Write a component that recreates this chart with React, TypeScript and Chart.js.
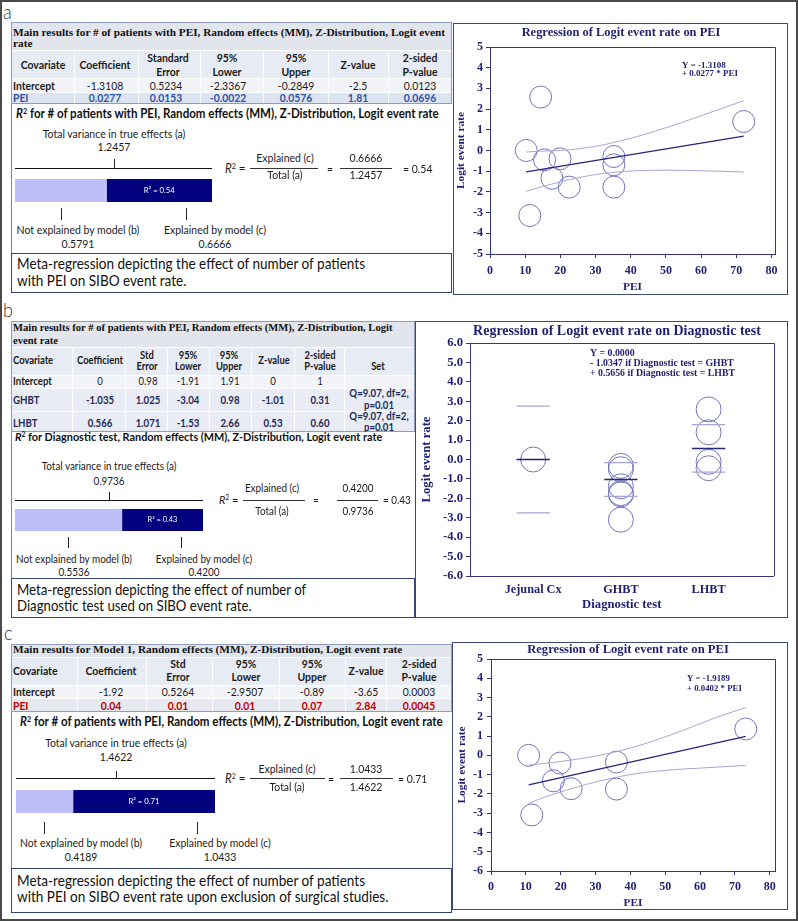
import React, { useEffect, useRef } from "react";
import { Chart, registerables } from "chart.js";
Chart.register(...registerables);

/* ================= DATA ================= */
// ---- panel a ----
const aPEI = [10.3, 14.4, 15.5, 19.9, 17.6, 22.5, 11.3, 35.2, 35.2, 35.2, 72.1];
const aLogit = [0.0, 2.58, -0.45, -0.4, -1.34, -1.77, -3.14, -0.29, -0.69, -1.77, 1.4];
const aFitX = [10.3, 72.1];
const aFitY = [-1.03, 0.69];
const aBandX = [10.3, 15, 20, 25, 30, 35, 40, 45, 50, 55, 60, 65, 72.1];
const aUpper = [-0.07, -0.03, 0.0, 0.08, 0.2, 0.38, 0.59, 0.83, 1.1, 1.38, 1.68, 1.98, 2.4];
const aLower = [-1.97, -1.74, -1.51, -1.32, -1.16, -1.06, -0.99, -0.96, -0.95, -0.96, -0.98, -1.0, -1.04];
const aChartTitle = "Regression of Logit event rate on PEI";
const aEquation = ["Y = -1.3108", "+ 0.0277 * PEI"];
const aTableTitle = ["Main results for # of patients with PEI, Random effects (MM), Z-Distribution, Logit event", "rate"];
const aHeads = [["Covariate"], ["Coefficient"], ["Standard", "Error"], ["95%", "Lower"], ["95%", "Upper"], ["Z-value"], ["2-sided", "P-value"]];
const aIntercept = ["-1.3108", "0.5234", "-2.3367", "-0.2849", "-2.5", "0.0123"];
const aPEIRow = ["0.0277", "0.0153", "-0.0022", "0.0576", "1.81", "0.0696"];
const aR2Title = "for # of patients with PEI, Random effects (MM), Z-Distribution, Logit event rate";
const aTotal = 1.2457;
const aNotExpl = 0.5791;
const aExpl = 0.6666;
const aR2 = 0.54;
const aCaption = ["Meta-regression depicting the effect of number of patients", "with PEI on SIBO event rate."];

// ---- panel b ----
const bCats = ["Jejunal Cx", "GHBT", "LHBT"];
const bJejunal = [0.0];
const bGHBT = [-0.33, -0.5, -1.38, -1.73, -1.8, -3.1];
const bLHBT = [2.58, 1.4, -0.12, -0.45];
const bMean = [0.0, -1.03, 0.57];
const bUpper = [2.75, -0.16, 1.8];
const bLower = [-2.75, -1.9, -0.65];
const bChartTitle = "Regression of Logit event rate on Diagnostic test";
const bEquation = ["Y = 0.0000", "- 1.0347 if Diagnostic test = GHBT", "+ 0.5656 if Diagnostic test = LHBT"];
const bTableTitle = ["Main results for # of patients with PEI, Random effects (MM), Z-Distribution, Logit", "event rate"];
const bHeads = [["Covariate"], ["Coefficient"], ["Std", "Error"], ["95%", "Lower"], ["95%", "Upper"], ["Z-value"], ["2-sided", "P-value"], ["Set"]];
const bIntercept = ["0", "0.98", "-1.91", "1.91", "0", "1"];
const bGHBTRow = ["-1.035", "1.025", "-3.04", "0.98", "-1.01", "0.31"];
const bLHBTRow = ["0.566", "1.071", "-1.53", "2.66", "0.53", "0.60"];
const bSet = ["Q=9.07, df=2,", "p=0.01"];
const bR2Title = "for Diagnostic test, Random effects (MM), Z-Distribution, Logit event rate";
const bTotal = 0.9736;
const bNotExpl = 0.5536;
const bExpl = 0.42;
const bR2 = 0.43;
const bCaption = ["Meta-regression depicting the effect of number of", "Diagnostic test used on SIBO event rate."];

// ---- panel c ----
const cPEI = [10.8, 19.8, 17.9, 23.0, 11.7, 36.0, 36.0, 73.1];
const cLogit = [0.0, -0.4, -1.32, -1.73, -3.09, -0.35, -1.75, 1.37];
const cFitX = [10.8, 73.1];
const cFitY = [-1.53, 0.98];
const cBandX = [10.8, 15, 20, 25, 30, 35, 40, 45, 50, 55, 60, 65, 73.1];
const cUpper = [-0.5, -0.42, -0.32, -0.19, -0.04, 0.15, 0.38, 0.65, 0.96, 1.29, 1.64, 1.99, 2.48];
const cLower = [-2.5, -2.19, -1.9, -1.63, -1.38, -1.17, -1.0, -0.87, -0.78, -0.71, -0.66, -0.61, -0.52];
const cChartTitle = "Regression of Logit event rate on PEI";
const cEquation = ["Y = -1.9189", "+ 0.0402 * PEI"];
const cTableTitle = ["Main results for Model 1, Random effects (MM), Z-Distribution, Logit event rate"];
const cHeads = [["Covariate"], ["Coefficient"], ["Std", "Error"], ["95%", "Lower"], ["95%", "Upper"], ["Z-value"], ["2-sided", "P-value"]];
const cIntercept = ["-1.92", "0.5264", "-2.9507", "-0.89", "-3.65", "0.0003"];
const cPEIRow = ["0.04", "0.01", "0.01", "0.07", "2.84", "0.0045"];
const cR2Title = "for # of patients with PEI, Random effects (MM), Z-Distribution, Logit event rate";
const cTotal = 1.4622;
const cNotExpl = 0.4189;
const cExpl = 1.0433;
const cR2 = 0.71;
const cCaption = ["Meta-regression depicting the effect of number of patients", "with PEI on SIBO event rate upon exclusion of surgical studies."];

/* ================= STYLE ================= */
const SANS = "Lato, 'Open Sans', 'Liberation Sans', sans-serif";
const SERIF = "'Liberation Serif', 'DejaVu Serif', 'Times New Roman', serif";
const SX = 0.9; // horizontal squeeze for the sans text (Calibri-like proportions)
const NAVY = "#1f1f72";
const AXIS = "#34347f";
const CIRC = "#7474bc";
const CI = "#a6a6d6";
const REG = "#25257c";
const TXT = "#1b1b1b";

const mctx: CanvasRenderingContext2D | null =
  typeof document !== "undefined" ? document.createElement("canvas").getContext("2d") : null;
function fitSize(text: string, family: string, weight: number, italic: boolean, target: number): number {
  if (!mctx) return 11;
  mctx.font = `${italic ? "italic " : ""}${weight} 40px ${family}`;
  const w = mctx.measureText(text).width || 1;
  return (40 * target) / w;
}
const fitS = (text: string, weight: number, target: number) => fitSize(text, SANS, weight, false, target / SX);

function T(p: {
  x: number; y: number; t?: string; s?: number; f?: string; w?: number; c?: string;
  a?: "l" | "c" | "r"; i?: boolean; children?: React.ReactNode;
}) {
  const f = p.f ?? SANS;
  const w = p.w ?? 400;
  const a = p.a ?? "l";
  const size = p.s ?? 11;
  const lh = size * 1.3;
  const squeeze = f === SANS;
  const st: React.CSSProperties = {
    position: "absolute", top: p.y - lh / 2 - size * 0.07, fontSize: size, lineHeight: lh + "px",
    fontFamily: f, fontWeight: w, color: p.c ?? TXT, whiteSpace: "nowrap", fontStyle: p.i ? "italic" : "normal",
  };
  if (a === "l") { st.left = p.x; st.transformOrigin = "left center"; }
  else if (a === "c") { st.left = p.x - 300; st.width = 600; st.textAlign = "center"; st.transformOrigin = "center center"; }
  else { st.left = p.x - 600; st.width = 600; st.textAlign = "right"; st.transformOrigin = "right center"; }
  if (squeeze) st.transform = `scaleX(${SX})`;
  return <div style={st}>{p.children ?? p.t}</div>;
}

function Box({ x, y, w, h, bg, st }: { x: number; y: number; w: number; h: number; bg?: string; st?: React.CSSProperties }) {
  return <div style={{ position: "absolute", left: x, top: y, width: w, height: h, background: bg, boxSizing: "border-box", ...st }} />;
}
function HLine({ x0, x1, y, c = "#222", t = 1 }: { x0: number; x1: number; y: number; c?: string; t?: number }) {
  return <Box x={x0} y={y - t / 2} w={x1 - x0} h={t} bg={c} />;
}
function VLine({ x, y0, y1, c = "#222", t = 1 }: { x: number; y0: number; y1: number; c?: string; t?: number }) {
  return <Box x={x - t / 2} y={y0} w={t} h={y1 - y0} bg={c} />;
}
const Sup = ({ children }: { children: React.ReactNode }) => (
  <span style={{ fontSize: "0.62em", verticalAlign: "0.55em", lineHeight: 0 }}>{children}</span>
);

function ChartCanvas({ x, y, w, h, make }: { x: number; y: number; w: number; h: number; make: () => any }) {
  const ref = useRef<HTMLCanvasElement | null>(null);
  useEffect(() => {
    if (!ref.current) return;
    const ch = new Chart(ref.current, make());
    return () => ch.destroy();
  }, []);
  return <canvas ref={ref} width={w} height={h} style={{ position: "absolute", left: x, top: y, width: w, height: h }} />;
}

/* ================= chart helpers ================= */
const framePlugin = {
  id: "frame",
  afterDraw(chart: any) {
    const { left, right, top, bottom } = chart.chartArea;
    const ctx = chart.ctx;
    ctx.save();
    ctx.strokeStyle = AXIS;
    ctx.lineWidth = 1;
    ctx.beginPath();
    const r = Math.round(right) + 0.5;
    const t = Math.round(top) + 0.5;
    ctx.moveTo(Math.round(left), t);
    ctx.lineTo(r, t);
    ctx.lineTo(r, Math.round(bottom));
    ctx.stroke();
    ctx.restore();
  },
};
type TextItem = { t: string; x: number; y: number; s: number; align: CanvasTextAlign };
function textPlugin(items: TextItem[]) {
  return {
    id: "texts",
    afterDraw(chart: any) {
      const ctx = chart.ctx;
      ctx.save();
      ctx.fillStyle = NAVY;
      ctx.textBaseline = "middle";
      items.forEach((it) => {
        ctx.font = `bold ${it.s}px ${SERIF}`;
        ctx.textAlign = it.align;
        ctx.fillText(it.t, it.x, it.y);
      });
      ctx.restore();
    },
  };
}
const pxy = (xs: number[], ys: number[]) => xs.map((x, i) => ({ x, y: ys[i] }));
const fnt = (s: number) => ({ family: SERIF, size: s, weight: "bold" as const });

type PeiOpts = {
  pts: { x: number; y: number }[]; fit: { x: number; y: number }[];
  up: { x: number; y: number }[]; lo: { x: number; y: number }[];
  ymin: number; ymax: number; xmax: number;
  yW: number; padR: number; padT: number; xH: number;
  title: string; titleX: number; titleY: number; titleFit: number;
  eq: string[]; eqX: number; eqYs: number[]; eqFit: number;
  yTitleFit: number; yTitleX: number; yTickGap: number; xTickGap: number; xTitleGap: number; radius: number;
};
function peiConfig(o: PeiOpts) {
  const tS = fitSize(o.title, SERIF, 700, false, o.titleFit);
  const aS = fitSize("Logit event rate", SERIF, 700, false, o.yTitleFit);
  const kS = 12;
  const eS = fitSize(o.eq[o.eq.length - 1], SERIF, 700, false, o.eqFit);
  const texts: TextItem[] = [
    { t: o.title, x: o.titleX, y: o.titleY, s: tS, align: "center" },
    ...o.eq.map((t, i) => ({ t, x: o.eqX, y: o.eqYs[i], s: eS, align: "left" as CanvasTextAlign })),
  ];
  const grid = { display: true, drawOnChartArea: false, drawTicks: true, tickLength: 4, color: AXIS };
  return {
    type: "scatter",
    data: {
      datasets: [
        { data: o.up, showLine: true, borderColor: CI, borderWidth: 1, pointRadius: 0, tension: 0.4, cubicInterpolationMode: "monotone" },
        { data: o.lo, showLine: true, borderColor: CI, borderWidth: 1, pointRadius: 0, tension: 0.4, cubicInterpolationMode: "monotone" },
        { data: o.fit, showLine: true, borderColor: REG, borderWidth: 1.3, pointRadius: 0 },
        { data: o.pts, showLine: false, pointRadius: o.radius, pointHoverRadius: o.radius, pointBackgroundColor: "rgba(0,0,0,0)", pointBorderColor: CIRC, pointBorderWidth: 1 },
      ],
    },
    options: {
      responsive: false, animation: false, events: [],
      layout: { padding: { left: 0, right: o.padR, top: o.padT, bottom: 0 } },
      plugins: { legend: { display: false }, tooltip: { enabled: false }, title: { display: false } },
      scales: {
        x: {
          type: "linear", min: 0, max: o.xmax,
          border: { color: AXIS, width: 1 }, grid,
          ticks: { stepSize: 10, includeBounds: false, color: NAVY, font: fnt(kS), padding: o.xTickGap - 4 - kS * 0.6, maxRotation: 0, autoSkip: false },
          title: { display: true, text: "PEI", color: NAVY, font: fnt(aS), padding: { top: 0, bottom: o.xTitleGap - aS * 0.6 } },
          afterFit: (s: any) => { s.height = o.xH; },
        },
        y: {
          type: "linear", min: o.ymin, max: o.ymax,
          border: { color: AXIS, width: 1 }, grid,
          ticks: { stepSize: 1, color: NAVY, font: fnt(kS), padding: o.yTickGap - 4 },
          title: { display: true, text: "Logit event rate", color: NAVY, font: fnt(aS), padding: { top: o.yTitleX - aS * 0.6, bottom: 0 } },
          afterFit: (s: any) => { s.width = o.yW; },
        },
      },
    },
    plugins: [framePlugin, textPlugin(texts)],
  };
}

function diagConfig() {
  const yW = 54, padR = 9, padT = 21, xH = 41;
  const tS = fitSize(bChartTitle, SERIF, 700, false, 288);
  const aS = fitSize("Logit event rate", SERIF, 700, false, 86);
  const kS = fitSize(bCats[0], SERIF, 700, false, 57);
  const yS = fitSize("-6.0", SERIF, 700, false, 20);
  const eS = fitSize(bEquation[1], SERIF, 700, false, 144);
  const texts: TextItem[] = [
    { t: bChartTitle, x: 201, y: 9, s: tS, align: "center" },
    ...bEquation.map((t, i) => ({ t, x: 174, y: 31 + i * 10, s: eS, align: "left" as CanvasTextAlign })),
  ];
  const groups = [bJejunal, bGHBT, bLHBT];
  const pts = groups.flatMap((vals, i) => vals.map((y) => ({ x: i + 1, y })));
  const hw = 0.19;
  const seg = (vals: number[], color: string, width: number) =>
    vals.map((y, i) => ({ data: [{ x: i + 1 - hw, y }, { x: i + 1 + hw, y }], showLine: true, borderColor: color, borderWidth: width, pointRadius: 0 }));
  return {
    type: "scatter",
    data: {
      datasets: [
        ...seg(bUpper, CI, 1.3),
        ...seg(bLower, CI, 1.3),
        ...seg(bMean, REG, 1.5),
        { data: pts, showLine: false, pointRadius: 12.5, pointHoverRadius: 12.5, pointBackgroundColor: "rgba(0,0,0,0)", pointBorderColor: CIRC, pointBorderWidth: 1 },
      ],
    },
    options: {
      responsive: false, animation: false, events: [],
      layout: { padding: { left: 0, right: padR, top: padT, bottom: 0 } },
      plugins: { legend: { display: false }, tooltip: { enabled: false }, title: { display: false } },
      scales: {
        x: {
          type: "linear", min: 0.28, max: 3.74,
          border: { color: AXIS, width: 1 },
          grid: { display: true, drawOnChartArea: false, drawTicks: false, color: AXIS },
          afterBuildTicks: (s: any) => { s.ticks = bCats.map((_, i) => ({ value: i + 1 })); },
          ticks: { color: NAVY, font: fnt(kS), padding: 14 - kS * 0.6, maxRotation: 0, autoSkip: false, callback: (v: any) => bCats[Math.round(Number(v)) - 1] ?? "" },
          title: { display: true, text: "Diagnostic test", color: NAVY, font: fnt(aS), padding: { top: 0, bottom: 12 - aS * 0.6 } },
          afterFit: (s: any) => { s.height = xH; },
        },
        y: {
          type: "linear", min: -6, max: 6,
          border: { color: AXIS, width: 1 },
          grid: { display: true, drawOnChartArea: false, drawTicks: true, tickLength: 4, color: AXIS },
          ticks: { stepSize: 1, color: NAVY, font: fnt(yS), padding: 3, callback: (v: any) => Number(v).toFixed(1) },
          title: { display: true, text: "Logit event rate", color: NAVY, font: fnt(aS), padding: { top: 11 - aS * 0.6, bottom: 0 } },
          afterFit: (s: any) => { s.width = yW; },
        },
      },
    },
    plugins: [framePlugin, textPlugin(texts)],
  };
}

function r2BarConfig(notExpl: number, expl: number, label: string, lblFit: number) {
  const s = fitSize(label, SANS, 400, false, lblFit);
  return {
    type: "bar",
    data: {
      labels: [""],
      datasets: [
        { data: [notExpl], backgroundColor: "#bdbdf8", borderWidth: 0, barPercentage: 1, categoryPercentage: 1 },
        { data: [expl], backgroundColor: "#02027e", borderWidth: 0, barPercentage: 1, categoryPercentage: 1 },
      ],
    },
    options: {
      indexAxis: "y", responsive: false, animation: false, events: [],
      layout: { padding: 0 },
      plugins: { legend: { display: false }, tooltip: { enabled: false } },
      scales: {
        x: { stacked: true, display: false, min: 0, max: notExpl + expl },
        y: { stacked: true, display: false },
      },
    },
    plugins: [
      {
        id: "r2label",
        afterDatasetsDraw(chart: any) {
          const el = chart.getDatasetMeta(1).data[0];
          if (!el) return;
          const ctx = chart.ctx;
          ctx.save();
          ctx.fillStyle = "#ffffff";
          ctx.font = `${s}px ${SANS}`;
          ctx.textAlign = "center";
          ctx.textBaseline = "middle";
          ctx.fillText(label, (el.x + el.base) / 2, el.y);
          ctx.restore();
        },
      },
    ],
  };
}

/* ================= table + R2 blocks ================= */
type Row = { label: string; vals: string[]; y: number; band: [number, number]; bg: string; color: string; bold: boolean; set?: string[]; setYs?: number[] };
type TB = {
  left: number; right: number; title: string[]; titleYs: number[]; titleFit: number; titleBand: [number, number];
  headBand: [number, number]; heads: string[][]; headXs: number[]; headYs: [number, number, number]; covLeft: boolean;
  lastHeadY?: number; headFit: number; bodyFit: number; bounds: number[]; valXs: number[]; rows: Row[]; setX?: number;
};
function TableBlock({ tb }: { tb: TB }) {
  const ts = fitSize(tb.title[0], SERIF, 700, false, tb.titleFit);
  const hs = fitS("Coefficient", 700, tb.headFit);
  const bs = fitS("Intercept", 700, tb.bodyFit);
  const bottom = tb.rows[tb.rows.length - 1].band[1];
  const W = tb.right - tb.left;
  return (
    <>
      <Box x={tb.left} y={tb.titleBand[0]} w={W} h={tb.titleBand[1] - tb.titleBand[0]} bg="#e2e5ec" />
      <Box x={tb.left} y={tb.headBand[0]} w={W} h={tb.headBand[1] - tb.headBand[0]} bg="#e7ebf3" />
      {tb.rows.map((r, i) => (
        <Box key={"rb" + i} x={tb.left} y={r.band[0]} w={W} h={r.band[1] - r.band[0]} bg={r.bg} />
      ))}
      {tb.bounds.map((b, i) => (
        <Box key={"bd" + i} x={b} y={tb.headBand[0]} w={1} h={bottom - tb.headBand[0]} bg="#ffffff" />
      ))}
      <Box x={tb.left} y={tb.titleBand[0]} w={W} h={bottom - tb.titleBand[0]} st={{ border: "1px solid #8f9cbb" }} />
      {tb.title.map((t, i) => (
        <T key={"tt" + i} x={tb.left + 2} y={tb.titleYs[i]} s={ts} f={SERIF} w={700} t={t} c="#111" />
      ))}
      {tb.heads.map((lines, j) => {
        const x = tb.headXs[j];
        const a = j === 0 && tb.covLeft ? "l" : "c";
        if (lines.length === 1) {
          const y = j === tb.heads.length - 1 && tb.lastHeadY ? tb.lastHeadY : tb.headYs[2];
          return <T key={"h" + j} x={x} y={y} s={hs} w={700} a={a} t={lines[0]} c="#1a1a1a" />;
        }
        return (
          <React.Fragment key={"h" + j}>
            <T x={x} y={tb.headYs[0]} s={hs} w={700} a={a} t={lines[0]} c="#1a1a1a" />
            <T x={x} y={tb.headYs[1]} s={hs} w={700} a={a} t={lines[1]} c="#1a1a1a" />
          </React.Fragment>
        );
      })}
      {tb.rows.map((r, i) => (
        <React.Fragment key={"r" + i}>
          <T x={tb.left + 2} y={r.y} s={bs} w={700} t={r.label} c={r.color} />
          {r.vals.map((v, j) => (
            <T key={j} x={tb.valXs[j]} y={r.y} s={bs} w={r.bold ? 700 : 400} a="c" t={v} c={r.color} />
          ))}
          {r.set && r.setYs && tb.setX !== undefined
            ? r.set.map((t, k) => <T key={"s" + k} x={tb.setX as number} y={(r.setYs as number[])[k]} s={bs} w={700} a="c" t={t} c={r.color} />)
            : null}
        </React.Fragment>
      ))}
    </>
  );
}

type G = {
  box: [number, number, number, number];
  title: [number, number, number]; tv: [number, number, number]; tvVal: number;
  tick: [number, number, number]; hl: [number, number, number]; bar: [number, number, number, number]; lblFit: number;
  t2: [number, number, number, number]; nbX: number; ecX: number; labY: number; valY: number;
  r: [number, number]; c1: number; l1: [number, number]; numY: number; denY: number; lineY: number;
  eq1: number; c2: number; l2: [number, number]; eq2: number;
};
function R2Block({ g, rest, total, notExpl, expl, r2 }: { g: G; rest: string; total: number; notExpl: number; expl: number; r2: number }) {
  const s = fitS("Total variance in true effects (a)", 400, g.tv[2]);
  const st = fitS("R2 " + rest, 700, g.title[2]);
  return (
    <>
      <Box x={g.box[0]} y={g.box[1]} w={g.box[2]} h={g.box[3]} bg="#ffffff" st={{ borderLeft: "1px solid #7383aa" }} />
      <T x={g.title[0]} y={g.title[1]} s={st} w={700} c="#111">
        <i>R</i><Sup>2</Sup> {rest}
      </T>
      <T x={g.tv[0]} y={g.tv[1]} s={s} a="c" t="Total variance in true effects (a)" />
      <T x={g.tv[0]} y={g.tvVal} s={s} a="c" t={total.toFixed(4)} />
      <VLine x={g.tick[0]} y0={g.tick[1]} y1={g.tick[2]} />
      <HLine x0={g.hl[0]} x1={g.hl[1]} y={g.hl[2]} c="#111" />
      <ChartCanvas x={g.bar[0]} y={g.bar[1]} w={g.bar[2]} h={g.bar[3]} make={() => r2BarConfig(notExpl, expl, `R² = ${r2.toFixed(2)}`, g.lblFit)} />
      <VLine x={g.t2[0]} y0={g.t2[2]} y1={g.t2[3]} />
      <VLine x={g.t2[1]} y0={g.t2[2]} y1={g.t2[3]} />
      <T x={g.nbX} y={g.labY} s={s} a="c" t="Not explained by model (b)" />
      <T x={g.nbX} y={g.valY} s={s} a="c" t={notExpl.toFixed(4)} />
      <T x={g.ecX} y={g.labY} s={s} a="c" t="Explained by model (c)" />
      <T x={g.ecX} y={g.valY} s={s} a="c" t={expl.toFixed(4)} />
      <T x={g.r[0]} y={g.r[1]} s={s * 1.1}>
        <i>R</i><Sup>2</Sup> =
      </T>
      <T x={g.c1} y={g.numY} s={s} a="c" t="Explained (c)" />
      <HLine x0={g.l1[0]} x1={g.l1[1]} y={g.lineY} c="#333" />
      <T x={g.c1} y={g.denY} s={s} a="c" t="Total (a)" />
      <T x={g.eq1} y={g.r[1]} s={s} a="c" t="=" />
      <T x={g.c2} y={g.numY} s={s} a="c" t={expl.toFixed(4)} />
      <HLine x0={g.l2[0]} x1={g.l2[1]} y={g.lineY} c="#333" />
      <T x={g.c2} y={g.denY} s={s} a="c" t={total.toFixed(4)} />
      <T x={g.eq2} y={g.r[1]} s={s} t={`= ${r2.toFixed(2)}`} />
    </>
  );
}

function Caption({ x, y, w, h, lines, ys, fit }: { x: number; y: number; w: number; h: number; lines: string[]; ys: number[]; fit: number }) {
  const s = fitS(lines[0], 400, fit);
  return (
    <>
      <Box x={x} y={y} w={w} h={h} bg="#fff" st={{ border: "1px solid #34437a" }} />
      {lines.map((t, i) => (
        <T key={i} x={x + 6} y={ys[i]} s={s} t={t} c="#111" />
      ))}
    </>
  );
}

/* ================= layouts ================= */
const tbA: TB = {
  left: 11, right: 452, title: aTableTitle, titleYs: [33, 44], titleFit: 433, titleBand: [22, 50],
  headBand: [51, 78], heads: aHeads, headXs: [43, 105, 168, 227, 296, 358, 420], headYs: [58, 72, 65], covLeft: false,
  headFit: 51, bodyFit: 42, bounds: [74, 138, 200, 263, 328, 388], valXs: [105, 166, 228, 296, 358, 420],
  rows: [
    { label: "Intercept", vals: aIntercept, y: 86, band: [79, 92], bg: "#f3f4f8", color: "#1b1b1b", bold: false },
    { label: "PEI", vals: aPEIRow, y: 98.5, band: [93, 104], bg: "#dde4f1", color: "#2e55a5", bold: true },
  ],
};
const gA: G = {
  box: [11, 104, 441, 149],
  title: [16, 114, 427], tv: [114, 134, 143], tvVal: 147, tick: [114, 159, 168], hl: [15, 212, 168],
  bar: [15, 179, 197, 23], lblFit: 31, t2: [61, 186, 208, 220], nbX: 77.5, ecX: 215, labY: 230, valY: 244,
  r: [225, 169], c1: 285, l1: [250, 318], numY: 158, denY: 175, lineY: 168, eq1: 330, c2: 366, l2: [340, 392], eq2: 403,
};
const tbB: TB = {
  left: 11, right: 415, title: bTableTitle, titleYs: [329, 342], titleFit: 380, titleBand: [321, 347],
  headBand: [348, 375], heads: bHeads, headXs: [13, 100, 147, 188, 229, 274, 320, 378], headYs: [357, 368, 362], covLeft: true,
  lastHeadY: 368, headFit: 46, bodyFit: 39, bounds: [72, 125, 167, 209, 251, 294, 344], valXs: [100, 148, 188, 230, 273, 320], setX: 379,
  rows: [
    { label: "Intercept", vals: bIntercept, y: 382, band: [376, 388], bg: "#f3f4f8", color: "#1b1b1b", bold: false },
    { label: "GHBT", vals: bGHBTRow, y: 401, band: [389, 411], bg: "#e9ecf4", color: "#1d2b58", bold: true, set: bSet, setYs: [394, 405.5] },
    { label: "LHBT", vals: bLHBTRow, y: 424, band: [412, 432], bg: "#e9ecf4", color: "#1d2b58", bold: true, set: bSet, setYs: [417, 428] },
  ],
};
const gB: G = {
  box: [11, 432, 404, 146],
  title: [15, 438, 371], tv: [109, 467, 135], tvVal: 482, tick: [109, 492, 500], hl: [15, 203, 500],
  bar: [15, 509, 188, 22], lblFit: 30, t2: [68, 181, 537, 548], nbX: 74, ecX: 204, labY: 560, valY: 573,
  r: [219, 501], c1: 272, l1: [243, 305], numY: 489, denY: 512, lineY: 500, eq1: 316, c2: 358, l2: [337, 378], eq2: 383,
};
const tbC: TB = {
  left: 11, right: 452, title: cTableTitle, titleYs: [650], titleFit: 390, titleBand: [644, 657],
  headBand: [658, 685], heads: cHeads, headXs: [13, 111, 178, 245.5, 312, 365.5, 419], headYs: [664, 677.5, 671], covLeft: true,
  headFit: 51, bodyFit: 42, bounds: [77, 146, 212, 279, 345, 386], valXs: [111, 178, 245, 312, 365.5, 419],
  rows: [
    { label: "Intercept", vals: cIntercept, y: 692, band: [686, 698], bg: "#f3f4f8", color: "#1b1b1b", bold: false },
    { label: "PEI", vals: cPEIRow, y: 706, band: [699, 712], bg: "#e6e9f0", color: "#c00000", bold: true },
  ],
};
const gC: G = {
  box: [11, 712, 441, 156],
  title: [20, 722, 427], tv: [116, 743, 142], tvVal: 757.5, tick: [116, 771, 778], hl: [16, 215, 778],
  bar: [16, 790, 199, 23], lblFit: 31, t2: [44, 197, 822, 834], nbX: 80.5, ecX: 220, labY: 843, valY: 857,
  r: [225, 779], c1: 287, l1: [250, 325], numY: 769, denY: 787, lineY: 778, eq1: 331, c2: 366, l2: [340, 393], eq2: 398,
};

const makeA = () =>
  peiConfig({
    pts: pxy(aPEI, aLogit), fit: pxy(aFitX, aFitY), up: pxy(aBandX, aUpper), lo: pxy(aBandX, aLower),
    ymin: -5, ymax: 5, xmax: 81, yW: 36, padR: 10.5, padT: 23, xH: 40,
    title: aChartTitle, titleX: 167, titleY: 9, titleFit: 199,
    eq: aEquation, eqX: 228, eqYs: [42, 50], eqFit: 56,
    yTitleFit: 77, yTitleX: 7, yTickGap: 7, xTickGap: 17, xTitleGap: 7, radius: 11,
  });
const makeC = () =>
  peiConfig({
    pts: pxy(cPEI, cLogit), fit: pxy(cFitX, cFitY), up: pxy(cBandX, cUpper), lo: pxy(cBandX, cLower),
    ymin: -6, ymax: 5, xmax: 81.5, yW: 38, padR: 9.5, padT: 16, xH: 38,
    title: cChartTitle, titleX: 175, titleY: 6.5, titleFit: 202,
    eq: cEquation, eqX: 234, eqYs: [36, 46], eqFit: 55,
    yTitleFit: 77, yTitleX: 9, yTickGap: 8, xTickGap: 16, xTitleGap: 6, radius: 11,
  });

export default function App() {
  const labS = 20;
  return (
    <div style={{ position: "absolute", left: 0, top: 0, width: 798, height: 921, background: "#fff", overflow: "hidden", fontFamily: SANS }}>
      {/* panel a */}
      <T x={3} y={12} s={labS} w={300} t="a" c="#333" />
      <TableBlock tb={tbA} />
      <R2Block g={gA} rest={aR2Title} total={aTotal} notExpl={aNotExpl} expl={aExpl} r2={aR2} />
      <Caption x={11} y={253} w={441} h={40} lines={aCaption} ys={[265, 282]} fit={349} />
      <Box x={453} y={23} w={335} h={272} st={{ border: "1px solid #3d4b78" }} />
      <ChartCanvas x={454} y={24} w={333} h={270} make={makeA} />

      {/* panel b */}
      <T x={3} y={310} s={labS} w={300} t="b" c="#333" />
      <TableBlock tb={tbB} />
      <R2Block g={gB} rest={bR2Title} total={bTotal} notExpl={bNotExpl} expl={bExpl} r2={bR2} />
      <Caption x={11} y={578} w={404} h={40} lines={bCaption} ys={[591, 607]} fit={290} />
      <Box x={415} y={321} w={373} h={297} st={{ border: "1px solid #3d4b78" }} />
      <ChartCanvas x={416} y={322} w={371} h={295} make={diagConfig} />

      {/* panel c */}
      <T x={4} y={633} s={labS} w={300} t="c" c="#333" />
      <TableBlock tb={tbC} />
      <R2Block g={gC} rest={cR2Title} total={cTotal} notExpl={cNotExpl} expl={cExpl} r2={cR2} />
      <Caption x={11} y={868} w={441} h={45} lines={cCaption} ys={[881.5, 898]} fit={349} />
      <Box x={452} y={642} w={336} h={268} st={{ border: "1px solid #3d4b78" }} />
      <ChartCanvas x={453} y={643} w={334} h={266} make={makeC} />

      <Box x={0} y={0} w={798} h={921} st={{ border: "2px solid #4a4a4a" }} />
    </div>
  );
}
